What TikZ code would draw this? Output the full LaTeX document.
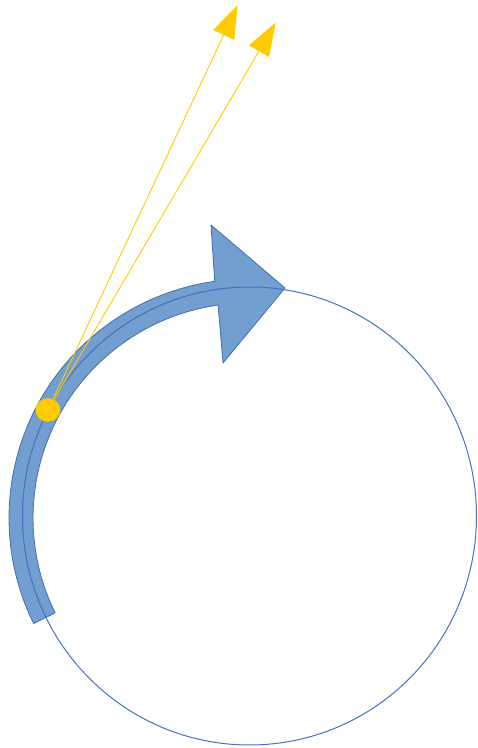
\documentclass[tikz,border=0pt]{standalone}
\usepackage{tikz}
\usetikzlibrary{arrows.meta,shapes.geometric}
\definecolor{ringblue}{RGB}{68,114,196}
\definecolor{bandfill}{RGB}{114,158,208}
\definecolor{bandline}{RGB}{65,113,170}
\definecolor{sungold}{RGB}{255,202,0}
\tikzset{
  every picture/.style={line join=round, line cap=round, >=Stealth},
  band/.style={fill=bandfill, draw=bandline, line width=0.8pt},
  ring/.style={draw=ringblue, line width=1pt},
  ray/.style={draw=sungold, line width=0.9pt, -{Triangle[length=33pt,width=23pt]}},
  sun/.style={ellipse, fill=sungold, minimum width=25pt, minimum height=23.5pt, inner sep=0pt},
}
\begin{document}
\begin{tikzpicture}[x=1pt,y=1pt]
\useasboundingbox (0,0) rectangle (478,748);
\draw[band] ([shift={(248,230)}]206.2:239) arc[start angle=206.2, end angle=98, radius=239]
  -- (211,523) -- (285,460) -- (223,385) -- (218.1,442.9)
  arc[start angle=98, end angle=206.2, radius=215] -- cycle;
\draw[ring] (249.5,232) ellipse [x radius=227, y radius=229];
\coordinate (tipA) at (237.7,743);
\coordinate (tipB) at (275.7,725.3);
\node[sun] (sun) at (48,338) {};
\draw[ray] (sun) -- (tipA);
\draw[ray] (sun) -- (tipB);
\end{tikzpicture}
\end{document}
